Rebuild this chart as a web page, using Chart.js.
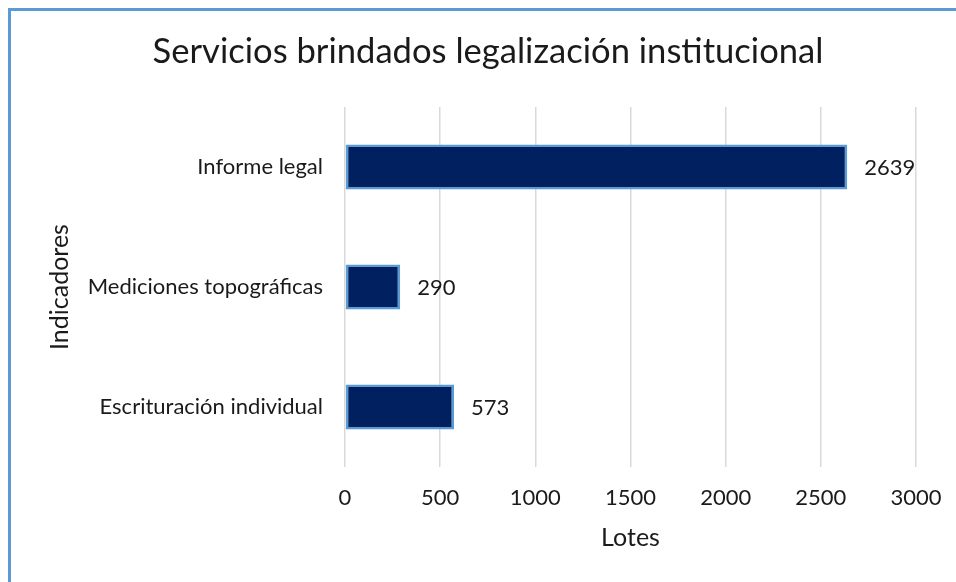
<!DOCTYPE html>
<html>
<head>
<meta charset="utf-8">
<script src="https://cdn.jsdelivr.net/npm/chart.js@4.4.1/dist/chart.umd.min.js"></script>
<style>
  html, body { margin: 0; padding: 0; background: #fff; }
  #wrap { position: relative; width: 956px; height: 582px; }
  #frame {
    position: absolute; left: 8px; top: 8px; right: 0; bottom: 0;
    border-top: 3px solid #5b9bd5; border-left: 3px solid #5b9bd5;
    pointer-events: none;
  }
  canvas { position: absolute; left: 0; top: 0; }
</style>
</head>
<body>
<div id="wrap">
  <canvas id="chart" width="956" height="582"></canvas>
  <div id="frame"></div>
</div>
<script>
const categories = ["Informe legal", "Mediciones topográficas", "Escrituración individual"];
const lotes = [2639, 290, 573];
const xTicks = [0, 500, 1000, 1500, 2000, 2500, 3000];

const FONT = "Lato, 'Open Sans', sans-serif";
const TEXT = "#1a1a1a";

// writes the value just past the end of each bar
const valueLabels = {
  id: "valueLabels",
  afterDatasetsDraw(chart) {
    const { ctx } = chart;
    const meta = chart.getDatasetMeta(0);
    ctx.save();
    ctx.font = `22px ${FONT}`;
    ctx.fillStyle = TEXT;
    ctx.textAlign = "left";
    ctx.textBaseline = "middle";
    meta.data.forEach((bar, i) => {
      ctx.fillText(String(lotes[i]), bar.x + 17, bar.y + 1);
    });
    ctx.restore();
  },
};

new Chart(document.getElementById("chart"), {
  type: "bar",
  data: {
    labels: categories,
    datasets: [
      {
        data: lotes,
        backgroundColor: "#002060",
        borderColor: "#5b9bd5",
        borderWidth: 2.5,
        borderSkipped: false,
        barPercentage: 0.5,
        categoryPercentage: 0.75,
      },
    ],
  },
  options: {
    indexAxis: "y",
    responsive: false,
    animation: false,
    // left padding only pushes the title's centre to the right, as in the original
    layout: { padding: { left: 60, right: 40, top: 0, bottom: 0 } },
    plugins: {
      legend: { display: false },
      tooltip: { enabled: false },
      title: {
        display: true,
        text: "Servicios brindados legalización institucional",
        color: TEXT,
        font: { family: FONT, size: 34.6, weight: "normal", lineHeight: 1.2 },
        padding: { top: 31, bottom: 34.5 },
      },
    },
    scales: {
      x: {
        min: 0,
        max: 3000,
        afterBuildTicks(scale) {
          scale.ticks = xTicks.map((v) => ({ value: v }));
        },
        afterFit(scale) {
          scale.height = 115;
          scale.paddingLeft = 0;
          scale.paddingRight = 0;
        },
        grid: { color: "#d9d9d9", lineWidth: 1.5, drawTicks: false },
        border: { display: false },
        ticks: {
          color: TEXT,
          padding: 18,
          font: { family: FONT, size: 22 },
          callback: (v) => String(v),
        },
        title: {
          display: true,
          text: "Lotes",
          color: TEXT,
          font: { family: FONT, size: 25 },
          padding: { top: 0, bottom: 29 },
        },
      },
      y: {
        afterFit(scale) { scale.width = 285; },
        grid: { display: false, drawTicks: false },
        border: { display: false },
        ticks: { color: TEXT, padding: 22, font: { family: FONT, size: 22 } },
        title: {
          display: true,
          text: "Indicadores",
          color: TEXT,
          font: { family: FONT, size: 25 },
          padding: { top: -15, bottom: 0 },
        },
      },
    },
  },
  plugins: [valueLabels],
});
</script>
</body>
</html>
